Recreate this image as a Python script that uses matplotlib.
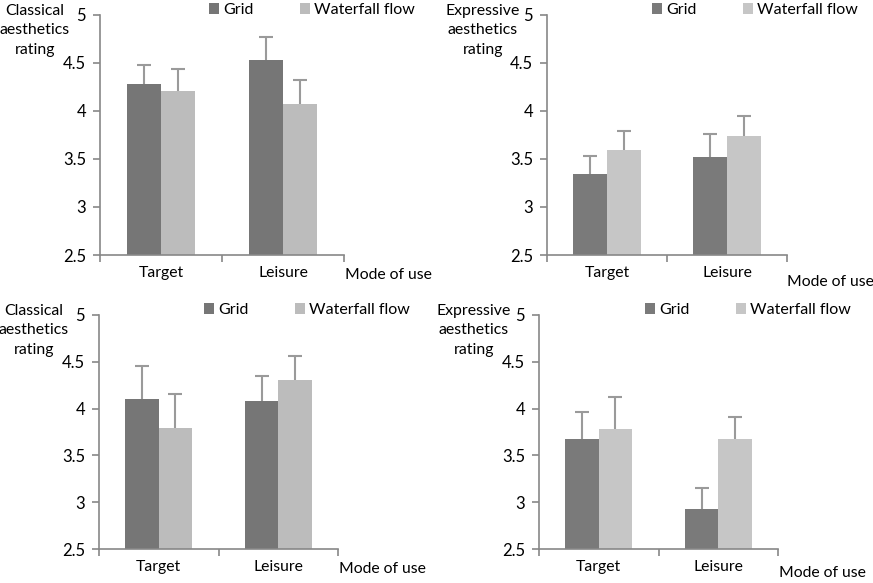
import matplotlib
matplotlib.use('Agg')
from matplotlib import pyplot as plt
import numpy as np

plt.rcParams['font.family'] = ['Lato', 'DejaVu Sans']

categories = ['Target', 'Leisure']
series = ['Grid', 'Waterfall flow']

# top-left: classical
cls1_grid = [4.28, 4.53]
cls1_grid_err = [0.20, 0.24]
cls1_wf = [4.21, 4.07]
cls1_wf_err = [0.23, 0.25]

# top-right: expressive
exp1_grid = [3.34, 3.52]
exp1_grid_err = [0.19, 0.24]
exp1_wf = [3.59, 3.74]
exp1_wf_err = [0.20, 0.21]

# bottom-left: classical
cls2_grid = [4.10, 4.08]
cls2_grid_err = [0.36, 0.27]
cls2_wf = [3.79, 4.31]
cls2_wf_err = [0.37, 0.25]

# bottom-right: expressive
exp2_grid = [3.67, 2.93]
exp2_grid_err = [0.29, 0.22]
exp2_wf = [3.78, 3.68]
exp2_wf_err = [0.34, 0.23]

W, H = 873, 583
fig = plt.figure(figsize=(W / 100, H / 100), dpi=100)

def px(x0, y0, x1, y1):
    return [x0 / W, 1 - y1 / H, (x1 - x0) / W, (y1 - y0) / H]

def panel(rect, grid, grid_err, wf, wf_err, ylab, ylab_xy, dark, light, mode_xy, leg_anchor):
    ax = fig.add_axes(px(*rect))
    x = np.arange(len(categories)) + 0.5
    bw = 0.28
    ekw = dict(ecolor='#9a9a9a', elinewidth=1.5, capsize=5, capthick=1.5)
    for off, vals, errs, col, lab in [(-bw / 2, grid, grid_err, dark, series[0]),
                                      (bw / 2, wf, wf_err, light, series[1])]:
        bc = ax.bar(x + off, vals, bw, color=col, label=lab,
                    yerr=[np.zeros(len(vals)), errs], error_kw=ekw, zorder=2)
        # only the upper half of the error bar is shown
        bc.errorbar.lines[1][0].set_visible(False)
    ax.set_xlim(0, 2)
    ax.set_ylim(2.5, 5)
    ax.set_yticks([2.5, 3, 3.5, 4, 4.5, 5])
    ax.set_yticklabels(['2.5', '3', '3.5', '4', '4.5', '5'])
    ax.set_xticks([0, 1, 2])
    ax.set_xticklabels([])
    ax.set_xticks(x, minor=True)
    ax.set_xticklabels(categories, minor=True)
    ax.tick_params(axis='x', which='minor', length=0, pad=8, labelsize=11.3)
    ax.tick_params(axis='x', which='major', length=5, width=1.2, color='#888888', direction='out')
    ax.tick_params(axis='y', length=5, width=1.2, color='#888888', direction='out', labelsize=12, pad=5)
    for s in ['top', 'right']:
        ax.spines[s].set_visible(False)
    for s in ['left', 'bottom']:
        ax.spines[s].set_color('#888888')
        ax.spines[s].set_linewidth(1.2)
    fig.text(ylab_xy[0] / W, 1 - ylab_xy[1] / H, ylab, ha='center', va='top',
             fontsize=11.4, linespacing=1.5)
    fig.text(mode_xy[0] / W, 1 - mode_xy[1] / H, 'Mode of use', ha='left', va='center', fontsize=11.3)
    ax.legend(ncol=2, frameon=False, loc='upper left', fontsize=11.5,
              bbox_to_anchor=(leg_anchor[0] / W, 1 - leg_anchor[1] / H),
              bbox_transform=fig.transFigure, handlelength=0.65, handleheight=0.65,
              handletextpad=0.25, columnspacing=2.9, borderaxespad=0, borderpad=0)
    return ax

panel((100, 15, 344, 255), cls1_grid, cls1_grid_err, cls1_wf, cls1_wf_err,
      'Classical\naesthetics\nrating', (35, 4), '#767676', '#bcbcbc', (345, 275), (209, 3))
panel((547, 15, 787, 255), exp1_grid, exp1_grid_err, exp1_wf, exp1_wf_err,
      'Expressive\naesthetics\nrating', (483, 4), '#7a7a7a', '#c6c6c6', (787, 282), (652, 3))
panel((99, 315, 338, 549), cls2_grid, cls2_grid_err, cls2_wf, cls2_wf_err,
      'Classical\naesthetics\nrating', (34, 304), '#767676', '#bcbcbc', (339, 569), (204, 303))
panel((539, 315, 778, 549), exp2_grid, exp2_grid_err, exp2_wf, exp2_wf_err,
      'Expressive\naesthetics\nrating', (474, 304), '#7a7a7a', '#c6c6c6', (779, 573), (645, 303))

fig.savefig('out.png', dpi=100)
